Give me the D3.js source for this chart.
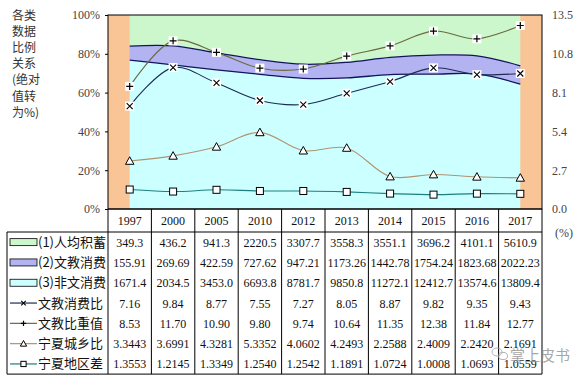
<!DOCTYPE html>
<html><head><meta charset="utf-8">
<script src="https://cdn.jsdelivr.net/npm/d3@7"></script>
<style>
html,body{margin:0;padding:0;background:#fff;}
svg{display:block;}
</style></head>
<body>
<svg id="c" width="582" height="380"></svg>
<script>
const years = ["1997","2000","2005","2010","2012","2013","2014","2015","2016","2017"];
const savings = [349.3,436.2,941.3,2220.5,3307.7,3558.3,3551.1,3696.2,4101.1,5610.9];
const culture = [155.91,269.69,422.59,727.62,947.21,1173.26,1442.78,1754.24,1823.68,2022.23];
const nonCulture = [1671.4,2034.5,3453.0,6693.8,8781.7,9850.8,11272.1,12412.7,13574.6,13809.4];
const cultureRatio = [7.16,9.84,8.77,7.55,7.27,8.05,8.87,9.82,9.35,9.43];
const cultureWeight = [8.53,11.70,10.90,9.80,9.74,10.64,11.35,12.38,11.84,12.77];
const urbanRural = [3.3443,3.6991,4.3281,5.3352,4.0602,4.2493,2.2588,2.4009,2.2420,2.1691];
const regional = [1.3553,1.2145,1.3349,1.2540,1.2542,1.1891,1.0724,1.0008,1.0693,1.0559];
const leftTicks = [0,20,40,60,80,100];
const rightTicks = ["0.0","2.7","5.4","8.1","10.8","13.5"];
const seriesNames = ["(1)人均积蓄","(2)文教消费","(3)非文消费","文教消费比","文教比重值","宁夏城乡比","宁夏地区差"];
const yTitle = ["各类","数据","比例","关系","(绝对","值转","为%)"];

const svg = d3.select("#c");
const L = 108, R = 542, T = 15, B = 209;
const x = d3.scaleBand().domain(years).range([L, R]).padding(0);
const cx = d => x(d) + x.bandwidth()/2;
const yL = d3.scaleLinear().domain([0,100]).range([B, T]);
const yR = d3.scaleLinear().domain([0,13.5]).range([B, T]);

const serif = "'Liberation Serif','Times New Roman',serif";
const cjk = "'Noto Sans CJK SC','Noto Sans CJK JP',sans-serif";

svg.append("rect").attr("x",L).attr("y",T).attr("width",R-L).attr("height",B-T).attr("fill","#f9c596");

const rows = years.map((yv,i)=>{
  const tot = savings[i]+culture[i]+nonCulture[i];
  return {year:yv, non:nonCulture[i]/tot*100, cul:culture[i]/tot*100, sav:savings[i]/tot*100};
});
const stack = d3.stack().keys(["non","cul","sav"])(rows);
const areaColors = {non:"#ccffff", cul:"#b3b3f2", sav:"#ccf7cc"};
const curve = d3.curveCatmullRom.alpha(0.5);
const area = d3.area().x(d=>cx(d.data.year)).y0(d=>yL(d[0])).y1(d=>yL(d[1])).curve(curve);
stack.forEach(s=>{
  svg.append("path").attr("d",area(s)).attr("fill",areaColors[s.key]);
});
const topLine = d3.line().x(d=>cx(d.data.year)).y(d=>yL(d[1])).curve(curve);
[stack[0],stack[1]].forEach(s=>{
  svg.append("path").attr("d",topLine(s)).attr("fill","none").attr("stroke","#14145e").attr("stroke-width",1.3);
});

const lineGen = d3.line().x((d,i)=>cx(years[i])).y(d=>yR(d)).curve(curve);
const lineDefs = [
  {vals:regional, color:"#1f7f7f", mark:"square"},
  {vals:urbanRural, color:"#b09470", mark:"tri"},
  {vals:cultureRatio, color:"#1d2b55", mark:"x"},
  {vals:cultureWeight, color:"#6a6a3c", mark:"plus"}
];
function drawMarker(g, mx, my, type, scale){
  scale = scale||1;
  if(type==="square"){
    g.append("rect").attr("x",mx-3.5*scale).attr("y",my-3.5*scale).attr("width",7*scale).attr("height",7*scale)
      .attr("fill","#fff").attr("stroke","#000").attr("stroke-width",1);
  } else if(type==="tri"){
    const s=4.2*scale;
    g.append("path").attr("d",`M${mx},${my-s}L${mx+s},${my+s*0.8}L${mx-s},${my+s*0.8}Z`)
      .attr("fill","#fff").attr("stroke","#000").attr("stroke-width",1);
  } else if(type==="x"){
    const s=3*scale;
    if(scale===1) g.append("rect").attr("x",mx-4.5).attr("y",my-4.5).attr("width",9).attr("height",9).attr("fill","#fff");
    g.append("path").attr("d",`M${mx-s},${my-s}L${mx+s},${my+s}M${mx+s},${my-s}L${mx-s},${my+s}`)
      .attr("stroke","#000").attr("stroke-width",1.1);
  } else if(type==="plus"){
    const s=3.5*scale;
    if(scale===1) g.append("rect").attr("x",mx-4.5).attr("y",my-4.5).attr("width",9).attr("height",9).attr("fill","#fff");
    g.append("path").attr("d",`M${mx-s},${my}L${mx+s},${my}M${mx},${my-s}L${mx},${my+s}`)
      .attr("stroke","#000").attr("stroke-width",1.2);
  }
}
lineDefs.forEach(ld=>{
  svg.append("path").attr("d",lineGen(ld.vals)).attr("fill","none").attr("stroke",ld.color).attr("stroke-width",1.1);
});
lineDefs.forEach(ld=>{
  const g = svg.append("g");
  ld.vals.forEach((v,i)=>drawMarker(g, cx(years[i]), yR(v), ld.mark));
});

svg.append("rect").attr("x",L).attr("y",T).attr("width",R-L).attr("height",B-T).attr("fill","none").attr("stroke","#000").attr("stroke-width",1);

const axL = svg.append("g").attr("transform",`translate(${L},0)`)
  .call(d3.axisLeft(yL).tickValues(leftTicks).tickSize(3).tickPadding(5).tickFormat(d=>d+"%"));
axL.select(".domain").remove();
axL.selectAll("text").attr("font-family",serif).attr("font-size",12).attr("fill","#444");
axL.selectAll("line").attr("stroke","#000");

const axR = svg.append("g").attr("transform",`translate(${R},0)`)
  .call(d3.axisRight(yR).tickValues(rightTicks.map(Number)).tickSize(0).tickPadding(10).tickFormat((d,i)=>rightTicks[i]));
axR.select(".domain").remove();
axR.selectAll("text").attr("font-family",serif).attr("font-size",12).attr("fill","#444");
svg.append("text").attr("x",555).attr("y",237).attr("font-family",serif).attr("font-size",12).attr("fill","#444").text("(%)");

const yt = svg.append("text").attr("x",12).attr("y",19.5).attr("font-family",cjk).attr("font-size",12).attr("fill","#333");
yTitle.forEach((t,i)=>{
  yt.append("tspan").attr("x",12).attr("dy", i===0 ? 0 : 16.2).text(t);
});

const headTop = B, rowTop = 232, rowH = 20.3, tblBottom = rowTop + rowH*7, LL = 7;
const tbl = svg.append("g");
years.forEach(yv=>{
  tbl.append("text").attr("x",cx(yv)).attr("y",(headTop+rowTop)/2+4.5).attr("text-anchor","middle")
    .attr("font-family",serif).attr("font-size",12).attr("fill","#111").text(yv);
});
const tableData = [
  {vals:savings, fmt:d3.format(".1f")},
  {vals:culture, fmt:d3.format(".2f")},
  {vals:nonCulture, fmt:d3.format(".1f")},
  {vals:cultureRatio, fmt:d3.format(".2f")},
  {vals:cultureWeight, fmt:d3.format(".2f")},
  {vals:urbanRural, fmt:d3.format(".4f")},
  {vals:regional, fmt:d3.format(".4f")}
];
tableData.forEach((r,ri)=>{
  const yc = rowTop + rowH*ri + rowH/2;
  r.vals.forEach((v,i)=>{
    tbl.append("text").attr("x",cx(years[i])).attr("y",yc+4.5).attr("text-anchor","middle")
      .attr("font-family",serif).attr("font-size",12).attr("fill","#111").text(r.fmt(v));
  });
  tbl.append("text").attr("x",38).attr("y",yc+4.5).attr("font-family",cjk).attr("font-size",13).attr("fill","#111").text(seriesNames[ri]);
});
const swatchCols = [areaColors.sav, areaColors.cul, areaColors.non];
swatchCols.forEach((c,i)=>{
  const yc = rowTop + rowH*i + rowH/2;
  tbl.append("rect").attr("x",10).attr("y",yc-3.5).attr("width",27).attr("height",7).attr("fill",c).attr("stroke","#000").attr("stroke-width",0.8);
});
const legLines = [
  {color:"#1d2b55", mark:"x"},
  {color:"#6a6a3c", mark:"plus"},
  {color:"#b09470", mark:"tri"},
  {color:"#1f7f7f", mark:"square"}
];
legLines.forEach((ll,i)=>{
  const yc = rowTop + rowH*(i+3) + rowH/2;
  tbl.append("line").attr("x1",10).attr("x2",37).attr("y1",yc).attr("y2",yc).attr("stroke",ll.color).attr("stroke-width",1.2);
  const g = tbl.append("g");
  drawMarker(g, 23.5, yc, ll.mark, 0.75);
});
const gl = (x1,y1,x2,y2)=>tbl.append("line").attr("x1",x1).attr("y1",y1).attr("x2",x2).attr("y2",y2).attr("stroke","#000").attr("stroke-width",1);
gl(L, headTop, R, headTop);
gl(LL, rowTop, R, rowTop);
gl(LL, tblBottom, R, tblBottom);
gl(LL, rowTop, LL, tblBottom);
years.forEach(yv=>gl(x(yv), headTop, x(yv), tblBottom));
gl(R, headTop, R, tblBottom);

// watermark (overlaps the table in the reference as well)
const wm = svg.append("g").attr("opacity",0.75);
wm.append("ellipse").attr("cx",497).attr("cy",352).attr("rx",5).attr("ry",4).attr("fill","none").attr("stroke","#999").attr("stroke-width",1);
wm.append("ellipse").attr("cx",503).attr("cy",356).attr("rx",4.5).attr("ry",3.6).attr("fill","none").attr("stroke","#999").attr("stroke-width",1);
wm.append("text").attr("x",510).attr("y",361).attr("font-family",cjk).attr("font-size",15).attr("fill","#8a8a8a").text("掌上皮书");
</script>
</body></html>
